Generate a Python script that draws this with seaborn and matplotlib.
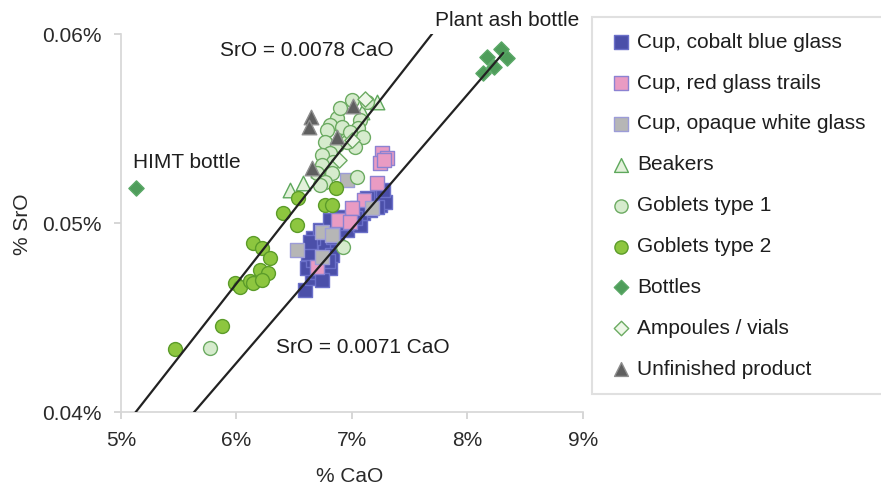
import numpy as np
import pandas as pd
import matplotlib
matplotlib.use('Agg')
import matplotlib.pyplot as plt
import seaborn as sns

# values: % CaO (x) and % SrO (y) for each group
cobalt_cao = [6.596, 6.657, 6.700, 6.613, 6.665, 6.752, 6.813, 6.683, 6.622, 6.769, 6.873, 6.839,
              6.665, 6.726, 6.899, 6.960, 6.943, 6.882, 7.012, 7.073, 7.099, 7.160, 7.246, 7.116,
              7.047, 6.813, 6.830, 7.246, 7.290, 7.220, 7.134, 7.160, 7.073, 7.029, 6.960, 6.899, 7.272,
              6.740, 6.790, 6.640]
cobalt_sro = [0.04645, 0.04709, 0.04741, 0.04762, 0.04804, 0.04815, 0.04762, 0.04857, 0.04841, 0.04884, 0.04894, 0.04926,
              0.04921, 0.04963, 0.04979, 0.04963, 0.05026, 0.05032, 0.05042, 0.04989, 0.05053, 0.05085, 0.05095, 0.05111,
              0.05079, 0.05016, 0.04831, 0.05159, 0.05111, 0.05085, 0.05132, 0.05069, 0.05053, 0.05026, 0.05000, 0.05016, 0.05175,
              0.04700, 0.04800, 0.04900]

red_cao = [7.264, 7.307, 7.246, 7.281, 7.220, 7.108, 7.003, 6.882, 6.986, 6.700]
red_sro = [0.05370, 0.05344, 0.05317, 0.05333, 0.05212, 0.05122, 0.05079, 0.05016, 0.05005, 0.04767]

white_cao = [6.526, 6.743, 6.830, 6.743, 6.960, 7.177]
white_sro = [0.04857, 0.04952, 0.04937, 0.04820, 0.05228, 0.05079]

beaker_cao = [7.220, 6.466, 6.578, 6.709, 6.830, 6.943, 7.090, 6.778]
beaker_sro = [0.05640, 0.05175, 0.05212, 0.05280, 0.05386, 0.05466, 0.05587, 0.05333]

gob1_cao = [7.003, 6.873, 6.813, 6.787, 6.917, 7.073, 7.055, 7.099, 6.769, 6.873, 7.029, 6.960,
            6.813, 6.743, 6.839, 6.743, 6.830, 6.700, 6.769, 7.047, 6.726, 6.925, 5.772, 7.134,
            6.899, 6.986]
gob1_sro = [0.05651, 0.05556, 0.05519, 0.05492, 0.05508, 0.05545, 0.05503, 0.05455, 0.05429, 0.05413, 0.05402, 0.05429,
            0.05370, 0.05360, 0.05323, 0.05307, 0.05265, 0.05265, 0.05217, 0.05243, 0.05201, 0.04873, 0.04339, 0.05640,
            0.05608, 0.05482]

gob2_cao = [6.145, 6.223, 6.292, 6.206, 6.275, 5.989, 6.032, 6.119, 6.145, 6.223, 5.876, 5.468,
            6.405, 6.535, 6.526, 6.865, 6.769, 6.830]
gob2_sro = [0.04894, 0.04868, 0.04815, 0.04751, 0.04735, 0.04683, 0.04661, 0.04693, 0.04683, 0.04698, 0.04455, 0.04333,
            0.05053, 0.05132, 0.04989, 0.05185, 0.05095, 0.05095]

bottle_cao = [5.13, 8.166, 8.287, 8.339, 8.226, 8.131]
bottle_sro = [0.05185, 0.05878, 0.05921, 0.05873, 0.05825, 0.05794]

ampoule_cao = [7.116, 7.003, 6.891]
ampoule_sro = [0.05656, 0.05439, 0.05333]

unfinished_cao = [6.648, 6.631, 7.012, 6.873, 6.657]
unfinished_sro = [0.05561, 0.05508, 0.05619, 0.05455, 0.05291]

# reference lines SrO = k * CaO
slope_hi = 0.0078
slope_lo = 0.0071
line_hi_cao = [5.0, 7.7]
line_lo_cao = [5.5, 8.31]

x_ticks = [5, 6, 7, 8, 9]
x_labels = ['5%', '6%', '7%', '8%', '9%']
y_ticks = [0.04, 0.05, 0.06]
y_labels = ['0.04%', '0.05%', '0.06%']

groups = [
    ('Cup, cobalt blue glass', cobalt_cao, cobalt_sro, 's', '#4b4fa9', '#6b70c9', 100),
    ('Cup, red glass trails', red_cao, red_sro, 's', '#e99bc3', '#8c82d2', 100),
    ('Cup, opaque white glass', white_cao, white_sro, 's', '#b6b6b6', '#9c9cd8', 100),
    ('Beakers', beaker_cao, beaker_sro, '^', '#e3f1db', '#5ea85c', 110),
    ('Goblets type 1', gob1_cao, gob1_sro, 'o', '#d6ebcd', '#6cab62', 100),
    ('Goblets type 2', gob2_cao, gob2_sro, 'o', '#8dc63f', '#5c9c2a', 100),
    ('Bottles', bottle_cao, bottle_sro, 'D', '#4f9d5b', '#5aa866', 60),
    ('Ampoules / vials', ampoule_cao, ampoule_sro, 'D', '#eef7e8', '#6cab62', 60),
    ('Unfinished product', unfinished_cao, unfinished_sro, '^', '#5f5f5f', '#8e8e8e', 110),
]

sns.set_style('white')
plt.rcParams['font.family'] = ['Liberation Sans', 'DejaVu Sans']

fig = plt.figure(figsize=(8.81, 4.87), dpi=100)
ax = fig.add_axes([0.1373, 0.154, 0.5244, 0.776])

for label, cao, sro, marker, face, edge, size in groups:
    df = pd.DataFrame({'cao': cao, 'sro': sro})
    sns.scatterplot(data=df, x='cao', y='sro', marker=marker, color=face, edgecolor=edge,
                    linewidth=1.0, s=size, label=label, ax=ax, zorder=3)

hi = pd.DataFrame({'cao': line_hi_cao, 'sro': [slope_hi * c for c in line_hi_cao]})
lo = pd.DataFrame({'cao': line_lo_cao, 'sro': [slope_lo * c for c in line_lo_cao]})
sns.lineplot(data=hi, x='cao', y='sro', color='#222222', linewidth=1.6, ax=ax, legend=False, zorder=4)
sns.lineplot(data=lo, x='cao', y='sro', color='#222222', linewidth=1.6, ax=ax, legend=False, zorder=4)

ax.set_xlim(5, 9)
ax.set_ylim(0.04, 0.06)
ax.set_xticks(x_ticks)
ax.set_xticklabels(x_labels)
ax.set_yticks(y_ticks)
ax.set_yticklabels(y_labels)
ax.set_xlabel('')
ax.set_ylabel('')
ax.tick_params(axis='both', which='major', labelsize=15, colors='#cfcfcf', labelcolor='#2a2a2a',
               length=5, width=1.2, direction='out', pad=9)
ax.tick_params(axis='x', bottom=True)
ax.tick_params(axis='y', left=True)
for side in ['top', 'right']:
    ax.spines[side].set_visible(False)
for side in ['left', 'bottom']:
    ax.spines[side].set_color('#d6d6d6')
    ax.spines[side].set_linewidth(1.2)

ax.text(5.86, 0.05915, 'SrO = 0.0078 CaO', fontsize=15, color='#1e1e1e', ha='left', va='center')
ax.text(6.34, 0.04339, 'SrO = 0.0071 CaO', fontsize=15, color='#1e1e1e', ha='left', va='center')
ax.text(5.10, 0.05323, 'HIMT bottle', fontsize=15, color='#1e1e1e', ha='left', va='center')
ax.text(7.72, 0.06074, 'Plant ash bottle', fontsize=15, color='#1e1e1e', ha='left', va='center')

fig.text(350 / 881, 1 - 476 / 487, '% CaO', fontsize=15, color='#2a2a2a', ha='center', va='center')
fig.text(22 / 881, 1 - 224 / 487, '% SrO', fontsize=15, color='#2a2a2a', ha='center', va='center',
         rotation=90)

handles, labels = ax.get_legend_handles_labels()
leg = ax.legend(handles, labels, loc='upper left', bbox_to_anchor=(0.672, 0.2, 0.36, 0.765),
                bbox_transform=fig.transFigure, mode='expand', borderaxespad=0, fontsize=15,
                frameon=True, fancybox=False, edgecolor='#d9d9d9', labelspacing=1.05,
                handlelength=1.3, handletextpad=0.1, borderpad=0.75, scatterpoints=1,
                markerscale=0.95)
leg.get_frame().set_linewidth(1.5)
for t in leg.get_texts():
    t.set_color('#1e1e1e')

fig.savefig('out.png', dpi=100)
